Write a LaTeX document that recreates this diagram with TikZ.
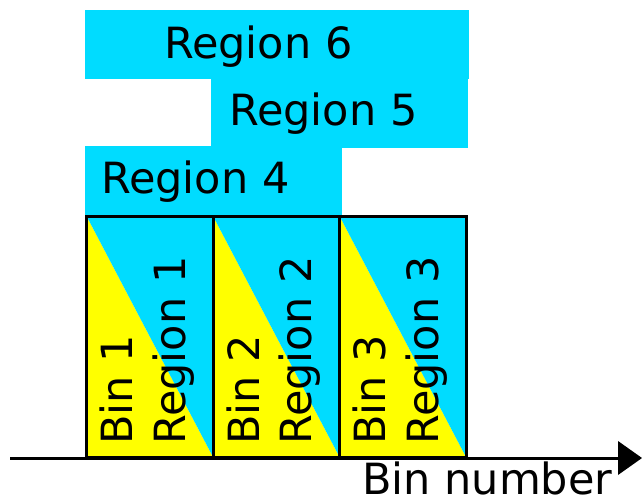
\documentclass[tikz,border=0pt]{standalone}
\usepackage{fontspec}
\setmainfont{DejaVu Sans}
\definecolor{regcyan}{HTML}{00DCFF}
\definecolor{binyellow}{HTML}{FFFF00}
\tikzset{
  region/.style={fill=regcyan, draw=none},
  lbl/.style={font=\fontsize{43}{48}\selectfont, inner sep=0pt, anchor=base west},
  vlbl/.style={lbl, rotate=90},
  binframe/.style={draw=black, line width=3pt},
}
\begin{document}
\begin{tikzpicture}[x=1pt, y=-1pt]
  \useasboundingbox (0,0) rectangle (642,496);

  % stacked region bands above the bins
  \fill[region] (85,10) rectangle (469,79);
  \fill[region] (211,78) rectangle (468,148);
  \fill[region] (85,146) rectangle (342,216);
  \node[lbl] (r6) at (164,58) {Region 6};
  \node[lbl] (r5) at (229,125) {Region 5};
  \node[lbl] (r4) at (101,193) {Region 4};

  % bins, each split diagonally into a bin part and a region part
  \foreach \i/\xl/\xr in {1/86.5/213, 2/213/339.5, 3/339.5/466} {
    \fill[binyellow] (\xl,216) -- (\xr,457) -- (\xl,457) -- cycle;
    \fill[regcyan] (\xl,216) -- (\xr,216) -- (\xr,457) -- cycle;
    \draw[binframe] (\xl,216) rectangle (\xr,457);
    \node[vlbl] (bin\i) at (\xl+46,445) {Bin \i};
    \node[vlbl] (reg\i) at (\xl+98.5,445) {Region \i};
  }

  % horizontal axis
  \coordinate (axstart) at (10,458);
  \coordinate (axend) at (618,458);
  \coordinate (axtip) at (642,458);
  \draw[line width=3pt] (axstart) -- (axend);
  \fill (axtip) -- (618,441) -- (618,475) -- cycle;
  \node[lbl] (axlbl) at (362,494) {Bin number};
\end{tikzpicture}
\end{document}
